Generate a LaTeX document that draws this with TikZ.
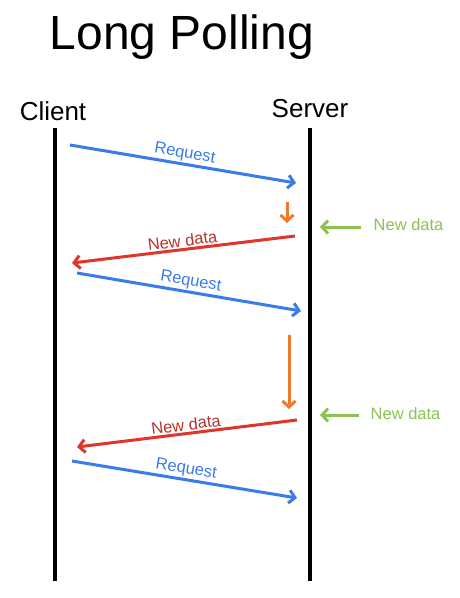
\documentclass[tikz,border=0pt]{standalone}
\usepackage{fontspec}
\setmainfont{Liberation Sans}
\usetikzlibrary{arrows.meta,positioning,calc}
\definecolor{reqblue}{HTML}{3A7BEA}
\definecolor{datared}{HTML}{E0352B}
\definecolor{datatext}{HTML}{B8322C}
\definecolor{waitorange}{HTML}{EE7A2E}
\definecolor{eventgreen}{HTML}{8DC152}

\begin{document}
\begin{tikzpicture}[x=1pt,y=-1pt]
  \tikzstyle{lifeline}=[draw=black, line width=3.5pt]
  \tikzstyle{msg}=[line width=3pt, -{Straight Barb[length=6pt,width=13pt]}]
  \tikzstyle{lbl}=[font=\fontsize{16.5}{18}\selectfont, inner sep=1.5pt]
  \useasboundingbox (0,0) rectangle (460,598);

  % Titel und Teilnehmer
  \node[font=\fontsize{48}{54}\selectfont] (title) at (182,37) {Long Polling};
  \node[font=\fontsize{26}{29}\selectfont] (client) at (53,111) {Client};
  \node[font=\fontsize{26}{29}\selectfont] (server) at (310,109) {Server};

  % Lebenslinien
  \coordinate (c0) at (55,128);
  \coordinate (c1) at (55,581);
  \coordinate (s0) at (310,128);
  \coordinate (s1) at (310,581);
  \draw[lifeline] (c0) -- (c1);
  \draw[lifeline] (s0) -- (s1);

  % Runde 1
  \coordinate (r1a) at (70,145);
  \coordinate (r1b) at (296,183);
  \draw[msg, reqblue] (r1a) -- node[lbl, midway, above, sloped, text=reqblue] (r1l) {Request} (r1b);
  \coordinate (w1a) at (287,202);
  \coordinate (w1b) at (287,223);
  \draw[msg, waitorange] (w1a) -- (w1b);
  \coordinate (e1a) at (361,227);
  \coordinate (e1b) at (320,227);
  \draw[msg, eventgreen] (e1a) -- (e1b);
  \node[lbl, text=eventgreen, anchor=west] (e1l) at (372,225) {New data};
  \coordinate (d1a) at (295,236);
  \coordinate (d1b) at (72,263);
  \draw[msg, datared] (d1a) -- node[lbl, midway, above, sloped, text=datatext] (d1l) {New data} (d1b);

  % Runde 2
  \coordinate (r2a) at (77,273);
  \coordinate (r2b) at (301,311);
  \draw[msg, reqblue] (r2a) -- node[lbl, midway, above, sloped, text=reqblue] (r2l) {Request} (r2b);
  \coordinate (w2a) at (289,335);
  \coordinate (w2b) at (289,409);
  \draw[msg, waitorange] (w2a) -- (w2b);
  \coordinate (e2a) at (359,415);
  \coordinate (e2b) at (320,415);
  \draw[msg, eventgreen] (e2a) -- (e2b);
  \node[lbl, text=eventgreen, anchor=west] (e2l) at (369,414) {New data};
  \coordinate (d2a) at (297,420);
  \coordinate (d2b) at (77,447);
  \draw[msg, datared] (d2a) -- node[lbl, midway, above, sloped, text=datatext] (d2l) {New data} (d2b);

  % Runde 3
  \coordinate (r3a) at (72,461);
  \coordinate (r3b) at (297,498);
  \draw[msg, reqblue] (r3a) -- node[lbl, midway, above, sloped, text=reqblue] (r3l) {Request} (r3b);
\end{tikzpicture}
\end{document}
